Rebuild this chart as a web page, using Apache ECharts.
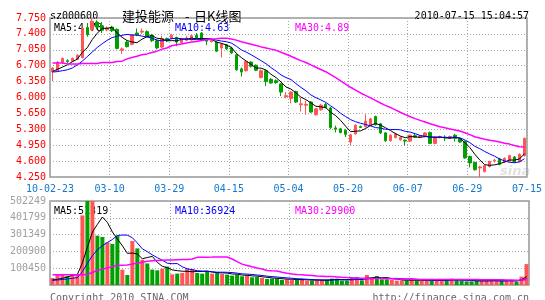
<!DOCTYPE html>
<html><head><meta charset="utf-8">
<script src="https://cdn.jsdelivr.net/npm/echarts@6/dist/echarts.min.js"></script>
<style>html,body{margin:0;padding:0;background:#fff}#c{width:545px;height:300px}</style>
</head><body><div id="c"></div><script>
// ---- data ----
const dateLabels = ['10-02-23','03-10','03-29','04-15','05-04','05-20','06-07','06-29','07-15'];
const opens  = [6.57,6.59,6.77,6.81,6.80,6.84,6.88,7.54,7.49,7.66,7.58,7.49,7.55,7.50,7.04,7.22,7.17,7.42,7.44,7.45,7.37,7.25,7.11,7.30,7.30,7.32,7.21,7.26,7.27,7.37,7.42,7.28,7.23,7.22,7.09,7.16,7.09,6.94,6.63,6.59,6.78,6.71,6.44,6.59,6.40,6.37,6.30,6.02,5.98,6.13,5.84,5.83,5.90,5.62,5.73,5.85,5.77,5.33,5.31,5.28,5.02,5.20,5.36,5.36,5.39,5.58,5.42,5.22,5.05,5.12,5.07,5.06,5.04,5.16,5.13,5.14,5.23,4.99,5.12,5.13,5.12,5.17,5.09,5.03,4.70,4.57,4.45,4.37,4.48,4.60,4.65,4.58,4.60,4.69,4.59,4.72];
const closes = [6.65,6.78,6.86,6.79,6.86,6.93,7.52,7.38,7.68,7.55,7.48,7.53,7.47,7.08,7.07,7.12,7.38,7.38,7.46,7.35,7.25,7.09,7.30,7.25,7.37,7.22,7.27,7.31,7.36,7.30,7.27,7.24,7.26,7.02,7.18,7.07,6.98,6.61,6.56,6.79,6.69,6.60,6.59,6.35,6.32,6.33,6.12,6.04,6.12,5.90,5.86,5.85,5.68,5.75,5.83,5.78,5.34,5.30,5.23,5.19,5.18,5.39,5.34,5.48,5.53,5.40,5.22,5.05,5.17,5.20,5.12,5.04,5.17,5.13,5.15,5.22,4.99,5.12,5.14,5.11,5.14,5.10,5.02,4.67,4.56,4.41,4.47,4.50,4.59,4.62,4.53,4.66,4.72,4.58,4.75,5.10];
const highs  = [6.67,6.80,6.88,6.84,6.88,6.95,7.55,7.64,7.75,7.70,7.66,7.56,7.58,7.52,7.10,7.25,7.40,7.52,7.52,7.48,7.40,7.28,7.36,7.32,7.40,7.34,7.30,7.36,7.38,7.42,7.44,7.30,7.30,7.24,7.20,7.18,7.12,6.95,6.66,6.81,6.80,6.73,6.62,6.61,6.43,6.40,6.32,6.12,6.14,6.15,5.99,5.93,5.92,5.77,5.86,5.88,5.79,5.38,5.33,5.30,5.20,5.41,5.38,5.63,5.55,5.60,5.44,5.24,5.19,5.22,5.14,5.08,5.19,5.20,5.17,5.24,5.25,5.14,5.16,5.17,5.16,5.20,5.11,5.05,4.72,4.59,4.50,4.52,4.61,4.65,4.67,4.68,4.74,4.71,4.77,5.12];
const lows   = [6.36,6.57,6.75,6.76,6.79,6.82,6.86,7.34,7.46,7.50,7.42,7.46,7.44,7.06,6.96,7.10,7.15,7.35,7.40,7.33,7.22,7.06,7.09,7.22,7.28,7.13,7.19,7.24,7.25,7.28,7.25,7.15,7.21,7.00,6.88,7.05,6.96,6.59,6.46,6.57,6.66,6.58,6.42,6.25,6.30,6.30,6.03,5.98,5.87,5.88,5.69,5.62,5.66,5.60,5.71,5.76,5.30,5.23,5.21,5.13,4.95,5.18,5.33,5.34,5.37,5.38,5.20,5.02,5.03,5.10,5.05,4.94,5.02,5.11,5.11,5.12,4.97,4.97,5.10,5.04,5.10,5.03,5.00,4.65,4.46,4.39,4.25,4.35,4.46,4.57,4.51,4.56,4.58,4.56,4.57,4.70];
const volumes = [42000,66000,66000,54000,66000,66000,416000,530000,505000,295000,287000,255000,245000,295000,92000,60000,263000,219000,151000,129000,92000,88000,98000,110000,64000,68000,72000,96000,96000,72000,68000,82000,68000,78000,66000,62000,56000,62000,52000,58000,46000,48000,42000,36000,38000,40000,30000,34000,
  30000,30000,36000,26000,26000,26000,30000,32000,38000,38000,26000,26000,42000,48000,28000,60000,40000,54000,34000,34000,30000,26000,26000,26000,38000,26000,26000,26000,26000,28000,32000,30000,38000,30000,26000,22000,22000,24000,26000,26000,26000,24000,24000,28000,30000,20000,50000,125000];
const ma5Lead  = [6.57,6.62,6.67,6.72];
const ma10Lead = [6.56,6.57,6.59,6.61,6.65,6.72,6.80,6.90,7.00];
const ma30Lead = [6.76,6.76,6.76,6.74,6.74,6.74,6.75,6.75,6.75,6.75,6.77,6.77,6.77,6.79,6.80,6.85,6.88,6.91,6.94,6.96,6.99,7.02,7.06,7.09,7.14,7.16,7.18,7.20,7.22];
const vma5Lead  = [30000,34000,40000,48000];
const vma10Lead = [28000,30000,33000,36000,40000,44000,80000,130000,175000];
const vma30Lead = [62000,62000,62000,62000,62000,62000,62000,64000,75000,88000,95000,102000,110000,116000,118000,120000,126000,130000,136000,142000,145000,147000,148000,149000,150000,151000,152000,153000,155000];

function movingAvg(src, n, lead, dp){
  return src.map((v,i)=>{
    if (i < n-1) return lead[i];
    let s=0; for (let j=i-n+1;j<=i;j++) s+=src[j];
    return +(s/n).toFixed(dp);
  });
}
const cats = closes.map((_,i)=>String(i));
const ma5 = movingAvg(closes,5,ma5Lead,3), ma10 = movingAvg(closes,10,ma10Lead,3), ma30 = movingAvg(closes,30,ma30Lead,3);
const vma5 = movingAvg(volumes,5,vma5Lead,0), vma10 = movingAvg(volumes,10,vma10Lead,0), vma30 = movingAvg(volumes,30,vma30Lead,0);

const UP='#ff5555', DOWN='#00a000';
const MONO='"DejaVu Sans Mono", "Liberation Mono", monospace';
const GRIDC='#a8a8a8';

const chart = echarts.init(document.getElementById('c'), null, {renderer:'canvas'});
const txt = (x,y,text,color,opt)=>Object.assign({type:'text',left:x,top:y,z:0,silent:true,
  style:{text:text,fill:color,font:'10px '+MONO,textVerticalAlign:'middle'}},opt||{});
chart.setOption({
  animation:false,
  backgroundColor:'#fff',
  grid:[
    {left:50,top:18,width:479,height:159,show:true,borderColor:'#999',borderWidth:1.5,backgroundColor:'transparent'},
    {left:50,top:201,width:479,height:84,show:true,borderColor:'#999',borderWidth:1.5,backgroundColor:'transparent'}
  ],
  xAxis:[
    {type:'category',gridIndex:0,data:cats,boundaryGap:true,show:false},
    {type:'value',gridIndex:0,min:0,max:96,interval:12,position:'bottom',
      axisLine:{show:false},axisTick:{show:false},
      splitLine:{show:true,lineStyle:{color:GRIDC,type:[1,2],width:1}},
      axisLabel:{color:'#1479cc',fontFamily:MONO,fontSize:10,margin:7,
        formatter:v=>dateLabels[Math.round(v/12)]||''}},
    {type:'category',gridIndex:1,data:cats,boundaryGap:true,show:false},
    {type:'value',gridIndex:1,min:0,max:96,interval:12,
      axisLine:{show:false},axisTick:{show:false},axisLabel:{show:false},
      splitLine:{show:true,lineStyle:{color:GRIDC,type:[1,2],width:1}}}
  ],
  yAxis:[
    {type:'value',gridIndex:0,min:4.25,max:7.75,interval:0.35,
      axisLine:{show:false},axisTick:{show:false},
      splitLine:{show:true,lineStyle:{color:GRIDC,type:[1,2],width:1}},
      axisLabel:{color:'#ff0000',fontFamily:MONO,fontSize:10,margin:4,formatter:v=>v.toFixed(3)}},
    {type:'value',gridIndex:1,min:0,max:502249,interval:100449.8,
      axisLine:{show:false},axisTick:{show:false},
      splitLine:{show:true,lineStyle:{color:GRIDC,type:[1,2],width:1}},
      axisLabel:{color:'#a0a0a0',fontFamily:MONO,fontSize:10,margin:4,
        formatter:v=>v<1?'':String(Math.round(v))}}
  ],
  graphic:[
    txt(50,11,'sz000600','#000'),
    {type:'text',left:122,top:10,z:0,silent:true,style:{text:'建投能源',fill:'#000',font:'13px "Noto Sans CJK SC"',textVerticalAlign:'middle'}},
    {type:'text',left:185,top:10,z:0,silent:true,style:{text:'-',fill:'#000',font:'13px "Noto Sans CJK SC"',textVerticalAlign:'middle'}},
    {type:'text',left:194,top:10,z:0,silent:true,style:{text:'日K线图',fill:'#000',font:'13px "Noto Sans CJK SC"',textVerticalAlign:'middle'}},
    {type:'text',right:16,top:11,z:0,silent:true,style:{text:'2010-07-15 15:04:57',fill:'#000',font:'10px '+MONO,textVerticalAlign:'middle'}},
    txt(54,23,'MA5:4.78','#000'),
    txt(175,23,'MA10:4.63','#0000ff'),
    txt(295,23,'MA30:4.89','#ff00ff'),
    txt(54,206,'MA5:51319','#000'),
    txt(175,206,'MA10:36924','#0000ff'),
    txt(295,206,'MA30:29900','#ff00ff'),
    txt(50,293,'Copyright 2010 SINA.COM','#666'),
    {type:'text',right:16,top:293,z:0,silent:true,style:{text:'http://finance.sina.com.cn',fill:'#666',font:'10px '+MONO,textVerticalAlign:'middle'}},
    {type:'text',left:500,top:165,z:0,silent:true,style:{text:'sina',fill:'rgba(170,170,170,0.35)',font:'italic bold 13px "DejaVu Sans"',textVerticalAlign:'middle'}},
    {type:'text',left:508,top:154,z:0,silent:true,style:{text:'◉',fill:'rgba(255,150,150,0.35)',font:'10px "DejaVu Sans"',textVerticalAlign:'middle'}}
  ],
  series:[
    {type:'candlestick',xAxisIndex:0,yAxisIndex:0,barWidth:3,
      data:opens.map((o,i)=>[o,closes[i],lows[i],highs[i]]),
      itemStyle:{color:UP,color0:DOWN,borderColor:UP,borderColor0:DOWN,borderWidth:1}},
    {type:'line',xAxisIndex:0,yAxisIndex:0,data:ma5,symbol:'none',lineStyle:{color:'#000',width:1}},
    {type:'line',xAxisIndex:0,yAxisIndex:0,data:ma10,symbol:'none',lineStyle:{color:'#0000ff',width:1}},
    {type:'line',xAxisIndex:0,yAxisIndex:0,data:ma30,symbol:'none',lineStyle:{color:'#ff00ff',width:1.5}},
    {type:'bar',xAxisIndex:2,yAxisIndex:1,barWidth:4,
      data:volumes.map((v,i)=>({value:v,itemStyle:{color:closes[i]>=opens[i]?UP:DOWN}}))},
    {type:'line',xAxisIndex:2,yAxisIndex:1,data:vma5,symbol:'none',lineStyle:{color:'#000',width:1}},
    {type:'line',xAxisIndex:2,yAxisIndex:1,data:vma10,symbol:'none',lineStyle:{color:'#0000ff',width:1}},
    {type:'line',xAxisIndex:2,yAxisIndex:1,data:vma30,symbol:'none',lineStyle:{color:'#ff00ff',width:1.5}}
  ]
});
</script></body></html>
